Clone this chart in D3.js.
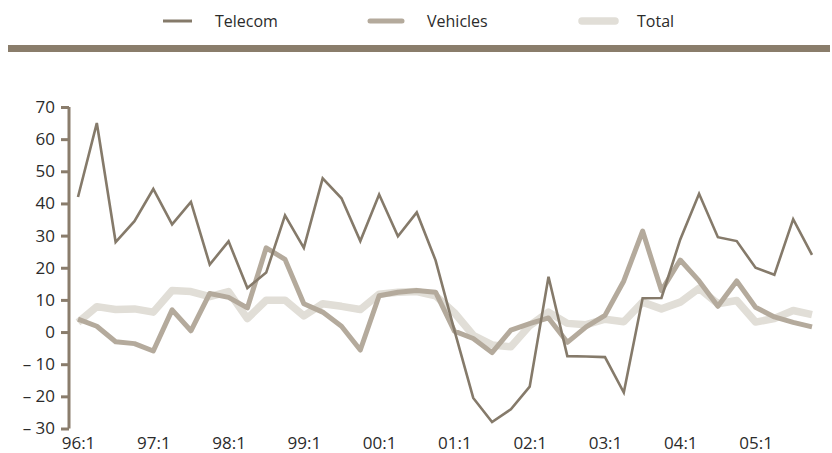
<!DOCTYPE html>
<html><head><meta charset="utf-8">
<script src="https://cdn.jsdelivr.net/npm/d3@7/dist/d3.min.js"></script>
<style>
body{margin:0;background:#fff;}
svg text{font-family:"Open Sans",sans-serif;fill:#2b2b2b;}
</style></head>
<body><svg id="c" width="832" height="453"></svg>
<script>
const quarters = d3.range(40).map(i => String(96 + Math.floor(i/4)).slice(-2).padStart(2,"0") + ":" + (i%4+1));
const xTickLabels = ["96:1","97:1","98:1","99:1","00:1","01:1","02:1","03:1","04:1","05:1"];
const yTicks = [-30,-20,-10,0,10,20,30,40,50,60,70];
const seriesNames = ["Telecom","Vehicles","Total"];
const telecom = [42,65,28,34.5,44.5,33.5,40.5,21,28.2,13.7,18.5,36.3,26.2,47.8,41.6,28.3,42.8,29.8,37.2,22.3,0.5,-20.5,-28,-24,-17,17.2,-7.5,-7.6,-7.8,-18.8,10.5,10.6,28.8,43,29.5,28.3,20,17.8,35.1,24];
const vehicles = [4,1.8,-3,-3.6,-5.9,6.9,0.4,12,10.8,7.5,26.2,22.6,8.8,6.2,1.8,-5.6,11.3,12.4,12.9,12.4,0.3,-2,-6.4,0.6,2.6,4.4,-3.2,1.6,5.2,15.9,31.4,12.9,22.4,15.9,8,15.9,7.7,4.7,3,1.6];
const total = [3,7.9,7,7.2,6.2,12.9,12.6,11,12.6,4.2,9.9,9.9,5,8.8,8,7,11.8,12.4,12.6,11.3,6,-1,-4,-4.6,2,6.2,2.7,2.3,4,3.2,9.3,7.2,9.3,13.6,8.8,9.8,3.1,4.2,6.7,5.4];

const svg = d3.select("#c");
const axisCol = "#8a7d6c";
const styles = {
  Telecom: {color:"#857a6a", w:2.6},
  Vehicles:{color:"#b4aa9c", w:5},
  Total:   {color:"#e1ded7", w:7.5}
};

// top rule
svg.append("rect").attr("x",8).attr("y",45).attr("width",822).attr("height",7).attr("fill","#8a7d6b");

// legend
const legendX = {Telecom:[163,192,215], Vehicles:[370,402,427], Total:[582,615,637]};
seriesNames.forEach(n => {
  const [a,b,t] = legendX[n];
  svg.append("line").attr("x1",a).attr("x2",b).attr("y1",21).attr("y2",21)
    .attr("stroke",styles[n].color).attr("stroke-width",n==="Telecom"?3:styles[n].w)
    .attr("stroke-linecap",n==="Telecom"?"butt":"round");
  svg.append("text").attr("x",t).attr("y",27).attr("font-size",16).text(n);
});

const x = d3.scaleLinear().domain([0,39]).range([78,812]);
const y = d3.scaleLinear().domain([-30,70]).range([428.5,107]);

// y axis
const yAxis = svg.append("g").attr("transform","translate(69,0)")
  .call(d3.axisLeft(y).tickValues(yTicks).tickSize(8).tickPadding(6)
    .tickFormat(d => d < 0 ? "\u2013 " + Math.abs(d) : String(d)));
yAxis.select(".domain").attr("stroke",axisCol).attr("stroke-width",3).attr("d","M0,"+y(70)+"V"+y(-30));
yAxis.selectAll(".tick line").attr("stroke",axisCol).attr("stroke-width",3);
yAxis.selectAll(".tick text").attr("font-size",17).attr("fill","#2b2b2b").attr("font-family","'Open Sans',sans-serif");

// x labels
const xAxis = svg.append("g").attr("transform","translate(0,432)")
  .call(d3.axisBottom(x).tickValues(xTickLabels.map(l => quarters.indexOf(l))).tickSize(0).tickPadding(5)
    .tickFormat(i => quarters[i]));
xAxis.select(".domain").remove();
xAxis.selectAll(".tick text").attr("font-size",17).attr("fill","#2b2b2b").attr("font-family","'Open Sans',sans-serif");

const line = d3.line().x((d,i) => x(i)).y(d => y(d));
const data = {Telecom:telecom, Vehicles:vehicles, Total:total};
["Total","Vehicles","Telecom"].forEach(n => {
  svg.append("path").datum(data[n]).attr("d",line).attr("fill","none")
    .attr("stroke",styles[n].color).attr("stroke-width",styles[n].w)
    .attr("stroke-linejoin",n==="Telecom"?"miter":"round")
    .attr("stroke-linecap","butt");
});
</script></body></html>
